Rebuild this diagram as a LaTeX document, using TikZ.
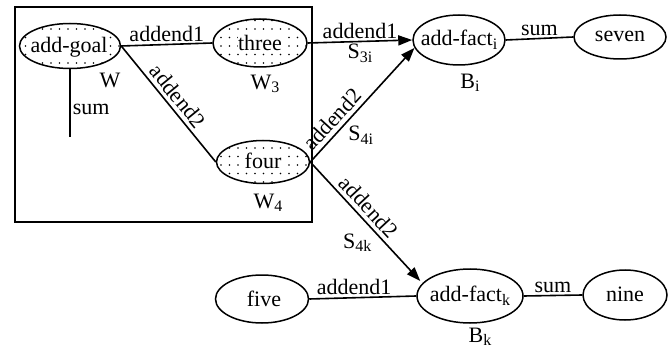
\documentclass[tikz,border=0pt]{standalone}
\usepackage{fontspec}
\setmainfont{Liberation Serif}
\usetikzlibrary{arrows.meta,patterns.meta,shapes.geometric}
% lowered index, a little smaller than the main text
\newcommand\lowidx[1]{\raisebox{-0.35ex}{\fontsize{16}{16}\selectfont #1}}
\begin{document}
\begin{tikzpicture}[x=1pt,y=-1pt,
  txt/.style={font=\fontsize{22}{24}\selectfont},
  ent/.style 2 args={draw, ellipse, line width=1.5pt, inner sep=0pt,
    minimum width=#1, minimum height=#2},
  stipple/.style={pattern={Dots[distance=8.5pt,radius=0.9pt]}},
  word/.style={txt, inner sep=0.5pt},
  wordbg/.style={word, fill=white},
  link/.style={line width=1.6pt},
  arrowlink/.style={link, -{Triangle[length=14pt,width=10pt]}},
  elabel/.style={txt, inner sep=2pt},
  slabel/.style={txt, sloped, above, inner sep=4pt}]
\useasboundingbox (0,0) rectangle (668,352);

% working-memory frame
\draw[line width=1.4pt] (15,7) rectangle (312,222);

% stippled working-memory elements
\node[ent={101}{45}, stipple] (goal) at (70,46) {};
\node[wordbg] (goaltxt) at (69,47) {add-goal};
\node[ent={94}{48}, stipple] (three) at (260,43) {};
\node[wordbg] (threetxt) at (260,43) {three};
\node[ent={93}{43}, stipple] (four) at (263,162) {};
\node[wordbg] (fourtxt) at (263,161) {four};

% declarative chunks
\node[ent={92}{50}] (facti) at (459,40) {};
\node[word] (factitxt) at (459,40) {add-fact\lowidx{i}};
\node[ent={92}{44}] (seven) at (620,37) {};
\node[word] (seventxt) at (620,36) {seven};
\node[ent={93}{48}] (five) at (262,299) {};
\node[word] (fivetxt) at (264,299) {five};
\node[ent={106}{54}] (factk) at (470,296) {};
\node[word] (factktxt) at (470,296) {add-fact\lowidx{k}};
\node[ent={84}{50}] (nine) at (625,295) {};
\node[word] (ninetxt) at (625,294) {nine};

% element names
\node[txt] (wgoal) at (110,80) {W};
\node[txt] (wthree) at (265,84) {W\lowidx{3}};
\node[txt] (wfour) at (268,203) {W\lowidx{4}};
\node[txt] (bi) at (470,83) {B\lowidx{i}};
\node[txt] (bk) at (480,337) {B\lowidx{k}};

% goal structure
\coordinate (sumend) at (70,137);
\draw[link] (goal.south) -- node[elabel, right, pos=0.6] (lsum) {sum} (sumend);
\draw[link] (goal.east) -- node[elabel, above] (la1) {addend1} (three.west);
\draw[link] (goal.east) -- node[slabel, pos=0.5] (la2) {addend2} (four.west);

% associations to the facts
\draw[arrowlink] (three.east) -- node[elabel, above] (s3a) {addend1}
  node[elabel, below] (s3) {S\lowidx{3i}} (facti.west);
\draw[arrowlink] (four.east) -- node[slabel, pos=0.3] (s4ia) {addend2}
  node[elabel, anchor=north west, pos=0.34] (s4i) {S\lowidx{4i}} (facti.190);
\draw[arrowlink, shorten >=3pt] (four.east) -- node[slabel, pos=0.44] (s4ka) {addend2}
  node[elabel, anchor=north east, pos=0.57] (s4k) {S\lowidx{4k}} (factk.165);

% fact slots
\draw[link] (facti.east) -- node[elabel, above] (lsumi) {sum} (seven.west);
\draw[link] (five.east) -- node[elabel, above, pos=0.42] (la1k) {addend1} (factk.west);
\draw[link] (factk.east) -- node[elabel, above] (lsumk) {sum} (nine.west);
\end{tikzpicture}
\end{document}
